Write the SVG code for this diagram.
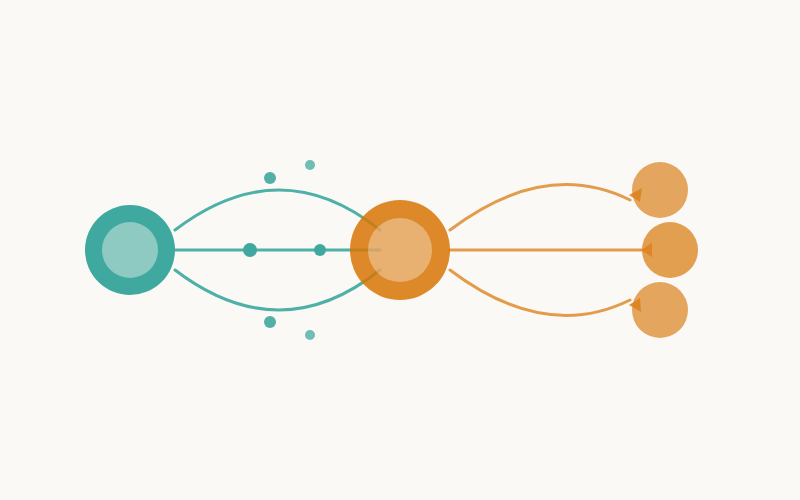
<svg xmlns="http://www.w3.org/2000/svg" width="800" height="500" viewBox="0 0 800 500">
<style>
.teal{fill:none;stroke:#3fa99f;stroke-width:3;stroke-opacity:0.92;stroke-linecap:round}
.orng{fill:none;stroke:#e0913a;stroke-width:3;stroke-opacity:0.9;stroke-linecap:round}
.arrow{fill:#dd8320;fill-opacity:0.9}
.dotA{fill:#52b0a6}
.dotB{fill:#6fbdb4}
.leaf{fill:#e4a65e}
</style>
<rect width="800" height="500" fill="#faf9f6"/>
<g id="connectors">
<path class="teal" d="M175,230 Q280,150 380,230"/>
<path class="teal" d="M175,250 L380,250"/>
<path class="teal" d="M175,270 Q280,350 380,270"/>
<path class="orng" d="M450,230 Q545,158 630,200"/>
<path class="orng" d="M450,250 L642,250"/>
<path class="orng" d="M450,270 Q545,342 630,300"/>
</g>
<g id="node-source">
<circle cx="130" cy="250" r="45" fill="#3fa99f"/>
<circle cx="130" cy="250" r="28" fill="#8ecac2"/>
</g>
<g id="node-hub" opacity="0.85">
<circle cx="400" cy="250" r="50" fill="#d97606"/>
<circle cx="400" cy="250" r="32" fill="#e5a55c"/>
</g>
<g id="node-out-top"><circle class="leaf" cx="660" cy="190" r="28"/></g>
<g id="node-out-mid"><circle cx="670" cy="250" r="28" fill="#e39f50"/></g>
<g id="node-out-bottom"><circle class="leaf" cx="660" cy="310" r="28"/></g>
<g id="arrowheads">
<polygon class="arrow" points="642,188 629,195 640,202"/>
<polygon class="arrow" points="652,243 641,250 652,257"/>
<polygon class="arrow" points="640,298 629,305 641,312"/>
</g>
<g id="particles">
<circle cx="250" cy="250" r="7" fill="#3fa99f"/>
<circle cx="320" cy="250" r="6" fill="#3fa99f"/>
<circle class="dotA" cx="270" cy="178" r="6"/>
<circle class="dotB" cx="310" cy="165" r="5"/>
<circle class="dotA" cx="270" cy="322" r="6"/>
<circle class="dotB" cx="310" cy="335" r="5"/>
</g>
</svg>
